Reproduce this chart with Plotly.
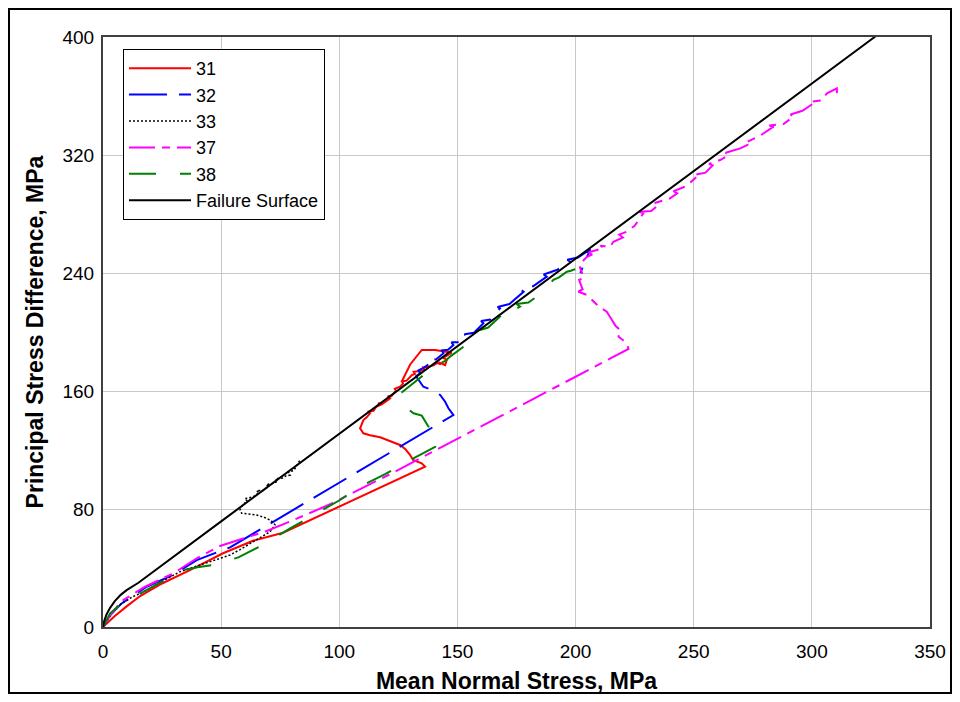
import plotly.graph_objects as go

# ---------------- data ----------------
fs_x = [0, 0.5, 1.5, 3, 5, 7.5, 10, 12.5, 15, 50, 100, 150, 200, 250, 300, 327]
fs_y = [0, 4, 8.5, 13, 17.5, 21.8, 25, 27.6, 30, 71.6, 131, 190.5, 250, 309.5, 369, 400.5]

s31_x = [0, 5, 10, 15.7, 25, 36.8, 50.8, 63.5, 76.2, 90, 105, 120, 136.3, 134.9, 131.2, 130, 128,
         125.7, 120, 117.3, 113, 110.2, 108.8, 109.5, 110.2, 111.5, 113, 112, 114.5, 115.5, 117.3,
         116.5, 118, 121.5, 120.5, 122, 124, 123.5, 125.7, 127, 126.5, 128.5, 130.7, 132, 131.5,
         134, 136, 135.5, 138, 140, 141.5, 143, 142, 144.8, 145.5, 144, 146, 147.6, 140.6, 134.9,
         130, 126.4]
s31_y = [0, 7.5, 14, 21, 29.5, 38.6, 50, 58.5, 63.9, 74.2, 85.4, 96.5, 108.7, 111, 113.2, 116.6,
         120.5, 123.4, 126.8, 128.6, 130, 131.3, 134.7, 137.5, 140.3, 142, 144.9, 146, 146.5,
         149, 150.5, 152, 151, 155, 156.5, 156.5, 160, 161.5, 162.9, 165, 166.5, 167, 170.8,
         171.5, 173, 173.5, 174.5, 176, 176.5, 177.5, 179, 178, 179.5, 177.6, 181, 182.5, 184.5,
         186, 187.8, 187.8, 178, 166.3]

s32_x = [0, 3, 7.9, 18.5, 29.6, 39.7, 53.8, 148.3, 146.2, 144.8, 142.7, 139.2, 135.6, 133.5, 132.5,
         134.2, 133.5, 136, 138.4, 137.5, 141, 144.1, 143.5, 146, 148.3, 147.5, 151, 154, 153, 157,
         161, 160, 164, 168, 167, 172, 178, 177, 182, 187.8, 186.5, 192, 197.7, 196.5, 201, 206.2,
         202]
s32_y = [0, 8, 16, 27.3, 35.3, 45.4, 54, 143.7, 148.3, 152.7, 157.3, 160.7, 162.9, 167.5, 170,
         172, 174, 176, 178.8, 180.5, 181.5, 185.6, 187.5, 188, 191.2, 193, 193, 196.8, 198.5,
         199.5, 205.9, 207.5, 208.5, 216, 217, 219, 227.3, 228.5, 231, 237.5, 239, 242, 247.7,
         249, 250.5, 256, 240]

s33_x = [0, 2, 5.8, 12, 18.5, 25, 32.6, 41, 47, 53.8, 58, 63.6, 68, 70.7, 72.8, 72, 70.7, 68, 65,
         61, 58.7, 58, 59, 61, 60, 63.6, 66, 65, 68, 70, 69, 72.1, 74, 73, 76, 77.5, 79.2, 78.5,
         80.5, 81.5, 82.5, 83.4]
s33_y = [0, 5, 13.8, 20, 25, 31, 37.5, 42, 45, 48.8, 52.5, 57.8, 61.5, 64.6, 69.2, 71, 72.5, 74.5,
         75.9, 76.8, 77.1, 79.3, 82.5, 85.5, 87, 88.3, 91, 92.5, 92.5, 95.5, 96.5, 97.4, 99, 100.5,
         101, 102.5, 103, 105, 106, 108, 111, 113.2]

s37_x = [0, 3, 8.6, 17.8, 29.8, 39.7, 49.5, 69.3, 80.6, 96.1, 122.2, 168.1, 222.4, 221.7, 218.2,
         218.9, 217, 215.4, 213.2, 210, 207.6, 204.8, 201.2, 203, 202.5, 201.5, 203.5, 202.6,
         201.5, 203, 204.8, 207, 205.5, 209, 212, 210.5, 214.6, 216, 220, 218.5, 221.7, 225,
         228.7, 227, 232, 235, 233.5, 240, 243, 241.5, 247, 251.3, 250, 255, 258, 256.5, 261.2,
         265, 263.5, 269.7, 273, 271.5, 278, 283.8, 282, 288, 292.3, 291, 296, 300.7, 299.5, 304,
         306.4, 310.6, 310.6]
s37_y = [0, 8, 18.3, 27.3, 36.4, 46.6, 54.9, 65.1, 72.5, 83.2, 104.2, 142.6, 188.5, 192.3, 196.8,
         201.4, 204, 208.1, 213.8, 217, 220.5, 225.1, 227.3, 229, 231, 235.3, 236.5, 240, 245.4,
         248, 251, 252.5, 254, 255.6, 257, 258.5, 257.8, 261.2, 264, 266, 268, 272, 280.5, 281.5,
         282, 286, 287.5, 290.6, 294, 295.5, 299, 305.3, 306.5, 308, 313, 314, 316.6, 320, 321.5,
         324.5, 327, 328, 333, 339.2, 340, 341, 346, 347.5, 350, 355, 356, 357, 361.8, 365.2,
         361.8]

s38_x = [0, 3, 8, 15.7, 25, 34, 40, 46.7, 57.3, 67.6, 79.2, 90, 100.3, 107.4, 119.4, 130, 140.6,
         141.9, 139.8, 137.7, 134.9, 131.4, 128.6, 125.7, 125, 126.4, 128.6, 130, 132.8, 135, 137,
         140, 142.7, 145, 146.9, 150, 153, 156, 159.6, 163, 168, 166.5, 172, 176.5, 175, 180, 183.6,
         187, 190.6, 193, 196.3, 198, 200.5]
s38_y = [0, 9.3, 16, 22.8, 31, 38.6, 40.5, 42, 47.2, 55.6, 66.9, 77, 86.1, 94, 103.7, 113.2, 122.2,
         130.2, 134.7, 135.9, 143.3, 144.9, 148.3, 152.7, 157.3, 159, 161.8, 163.5, 167.5, 170,
         174.2, 176, 178.8, 180.5, 183.3, 187, 190.5, 193.5, 201.4, 203, 210.4, 212, 213, 217.2,
         219, 220, 224, 229, 235.3, 237, 240.9, 241.5, 243.1]

x_ticks = [0, 50, 100, 150, 200, 250, 300, 350]
y_ticks = [0, 80, 160, 240, 320, 400]

FONT = "Liberation Sans, Arial, sans-serif"

fig = go.Figure()
fig.add_trace(go.Scatter(x=s31_x, y=s31_y, name="31", mode="lines",
                         line=dict(color="#ff0000", width=2)))
fig.add_trace(go.Scatter(x=s32_x, y=s32_y, name="32", mode="lines",
                         line=dict(color="#0000ff", width=2, dash="38px,12px")))
fig.add_trace(go.Scatter(x=s33_x, y=s33_y, name="33", mode="lines",
                         line=dict(color="#000000", width=1.5, dash="2px,2px")))
fig.add_trace(go.Scatter(x=s37_x, y=s37_y, name="37", mode="lines",
                         line=dict(color="#ff00ff", width=2, dash="26px,7px,8px,7px")))
fig.add_trace(go.Scatter(x=s38_x, y=s38_y, name="38", mode="lines",
                         line=dict(color="#008000", width=2, dash="27px,24px")))
fig.add_trace(go.Scatter(x=fs_x, y=fs_y, name="Failure Surface", mode="lines",
                         line=dict(color="#000000", width=2)))

# page body adds an 8px offset; figure is sized so plot area lands where the reference has it
W, H = 944, 686
L, R, T, B = 95, 22, 29, 67
pw, ph = W - L - R, H - T - B

fig.update_layout(
    width=W, height=H,
    margin=dict(l=L, r=R, t=T, b=B, pad=0, autoexpand=False),
    paper_bgcolor="white", plot_bgcolor="white",
    font=dict(family=FONT, size=19, color="black"),
    showlegend=True,
    legend=dict(x=(115 - L) / pw, y=(H - B - 41) / ph, xanchor="left", yanchor="top",
                bgcolor="white", bordercolor="black", borderwidth=1,
                font=dict(family=FONT, size=18, color="black"),
                itemwidth=62, tracegroupgap=0),
    xaxis=dict(range=[0, 350], tickvals=x_ticks, ticktext=[str(v) for v in x_ticks],
               showgrid=True, gridcolor="#c8c8c8", gridwidth=1, zeroline=False,
               showline=True, linecolor="#404040", linewidth=2, mirror=True,
               ticks="", tickfont=dict(size=19), automargin=False, ticklabeloverflow="allow",
               ticklabelstandoff=6,
               title=dict(text="<b>Mean Normal Stress, MPa</b>", font=dict(size=23),
                          standoff=12)),
    yaxis=dict(range=[0, 400], tickvals=y_ticks, ticktext=[str(v) for v in y_ticks],
               showgrid=True, gridcolor="#c8c8c8", gridwidth=1, zeroline=False,
               showline=True, linecolor="#404040", linewidth=2, mirror=True,
               ticks="", tickfont=dict(size=19), automargin=False, ticklabelstandoff=3,
               title=dict(text="<b>Principal Stress Difference, MPa</b>", font=dict(size=23),
                          standoff=12)),
)

# outer frame of the figure
fig.add_shape(type="rect", xref="paper", yref="paper",
              x0=(1 - L) / pw, x1=(W - 1 - L) / pw,
              y0=(H - B - (H - 1)) / ph, y1=(H - B - 1) / ph,
              line=dict(color="black", width=2), fillcolor="rgba(0,0,0,0)", layer="above")

fig.write_html("out.html")
